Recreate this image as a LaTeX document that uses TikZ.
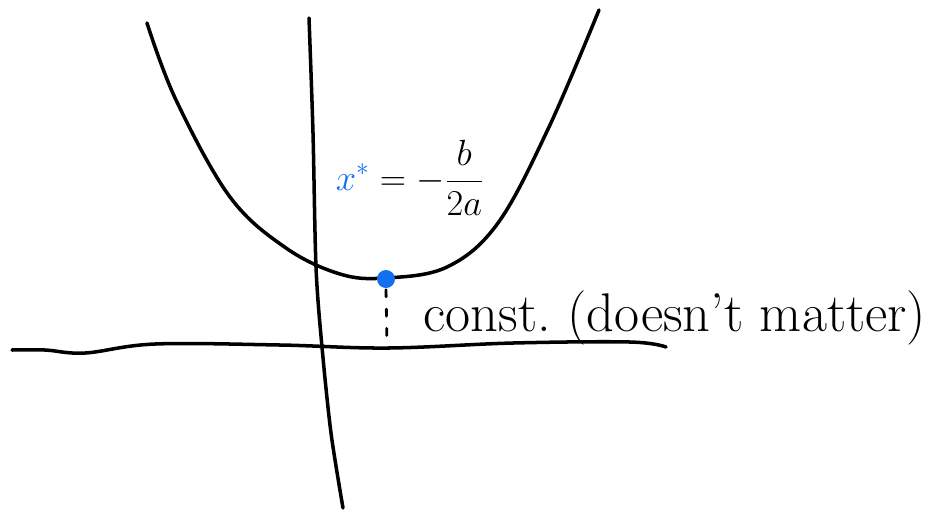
\documentclass[tikz,border=0pt]{standalone}
\usepackage{amsmath}
\definecolor{penblue}{RGB}{18,112,240}

\begin{document}
\begin{tikzpicture}[x=0.02cm,y=-0.02cm,line width=2pt,line cap=round,line join=round]
\useasboundingbox (0,0) rectangle (930,512);
% axes
\draw plot[smooth,tension=0.6] coordinates {(12,350) (45,350) (85,353) (155,344) (280,345) (388,348) (513,343) (630,342) (666,347)};
\draw plot[smooth] coordinates {(309,18) (313,133) (316,267) (322,347) (331,433) (343,508)};
% parabola
\draw plot[smooth,tension=0.6] coordinates {(147,23) (176,100) (230,197) (286,248) (340,274) (385,278) (447,267) (498,223) (549,127) (599,10)};
\node[circle,fill=penblue,minimum size=0.36cm,inner sep=0pt] (vertex) at (386,279) {};
\coordinate (foot) at (387,346);
\draw[line width=1.6pt,dash pattern=on 4pt off 7pt] (vertex.south) -- (foot);
\node[font=\fontsize{21}{25}\selectfont] (xstar) at (410,178) {$\displaystyle\textcolor{penblue}{x^*}=-\frac{b}{2a}$};
\node[font=\fontsize{31}{36}\selectfont] (const) at (675,318) {const.\ (doesn't matter)};
\end{tikzpicture}
\end{document}
